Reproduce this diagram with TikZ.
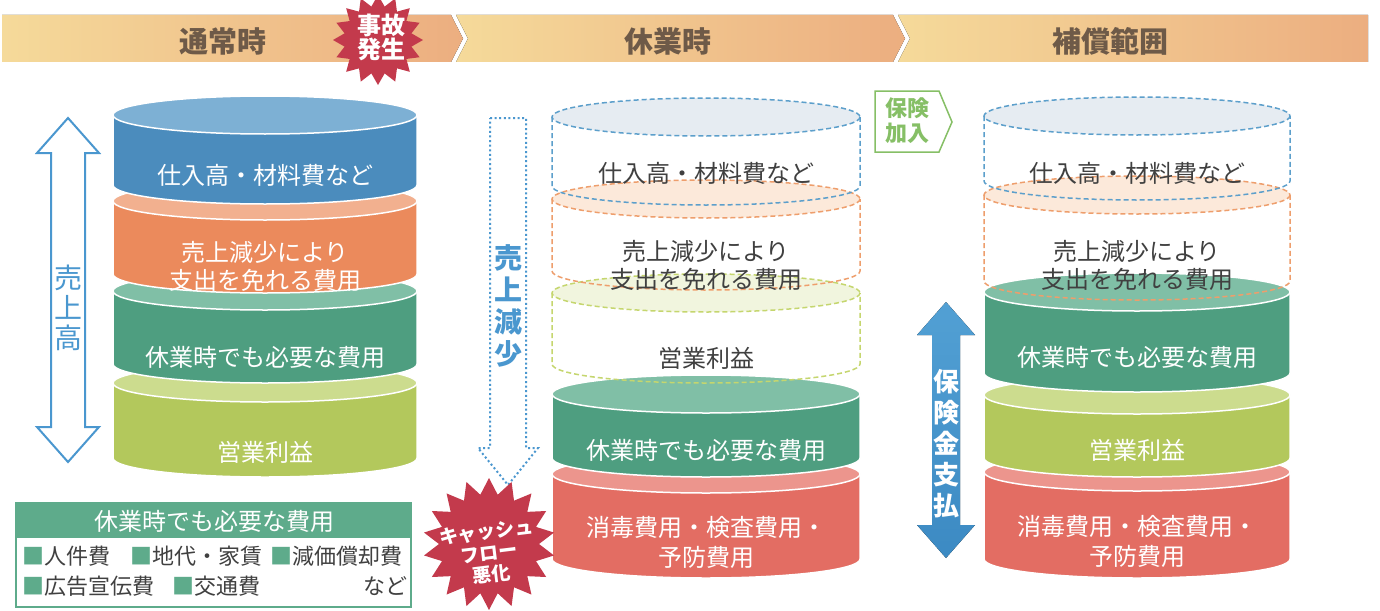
\documentclass[tikz,border=0pt]{standalone}
\usepackage{fontspec}
\setmainfont{Noto Sans CJK JP}
\usetikzlibrary{shapes.geometric}
\definecolor{bannerY}{HTML}{F5DA9A}
\definecolor{bannerO}{HTML}{ECAE80}
\definecolor{bannerText}{HTML}{6E5A48}
\definecolor{burstRed}{HTML}{C33A4C}
\definecolor{cBlue}{HTML}{4B8CBD}
\definecolor{cBlueTop}{HTML}{7DB0D4}
\definecolor{cOrange}{HTML}{EB8A5C}
\definecolor{cOrangeTop}{HTML}{F2B08F}
\definecolor{cGreen}{HTML}{4E9E80}
\definecolor{cGreenTop}{HTML}{80BFA6}
\definecolor{cYG}{HTML}{B3C85C}
\definecolor{cYGTop}{HTML}{CCDC8E}
\definecolor{cRed}{HTML}{E36D63}
\definecolor{cRedTop}{HTML}{EC958D}
\definecolor{dBlue}{HTML}{5C9FCB}
\definecolor{dBlueFill}{HTML}{E6ECF2}
\definecolor{dOrange}{HTML}{EE9E6C}
\definecolor{dOrangeFill}{HTML}{FCE9DA}
\definecolor{dYG}{HTML}{C5D66E}
\definecolor{dYGFill}{HTML}{F1F5DE}
\definecolor{arrowBlue}{HTML}{4A97CF}
\definecolor{thickBlue}{HTML}{3C8AC3}
\definecolor{thickBlueLight}{HTML}{52A0D4}
\definecolor{insGreen}{HTML}{86BF66}
\definecolor{legGreen}{HTML}{5EAB8B}
\definecolor{textGray}{HTML}{404040}
\newcommand\solidcyl[6]{%
  \filldraw[fill=#5, draw=white, line width=1.5pt] (#1-#2,#3) -- (#1-#2,#4) arc[start angle=180,end angle=0,x radius=#2,y radius=19] -- (#1+#2,#3) -- cycle;
  \filldraw[fill=#6, draw=white, line width=1.5pt] (#1,#3) ellipse[x radius=#2, y radius=19];
}
\newcommand\dashcyl[6]{%
  \filldraw[fill=#6, draw=#5, dashedline] (#1,#3) ellipse[x radius=#2, y radius=19];
  \draw[#5, dashedline] (#1-#2,#3) -- (#1-#2,#4) arc[start angle=180,end angle=0,x radius=#2,y radius=19] -- (#1+#2,#3);
}
\tikzset{
  dashedline/.style={line width=1.5pt, dash pattern=on 5pt off 3pt},
  bannertext/.style={text=bannerText, font=\fontsize{29}{32}\selectfont\bfseries},
  cyltext/.style={text=white, font=\fontsize{24}{28}\selectfont, align=center},
  cyltextb/.style={text=white, font=\fontsize{24}{30}\selectfont, align=center},
  dashtext/.style={text=textGray, font=\fontsize{24}{28}\selectfont, align=center},
  burststar/.style={star, star point ratio=1.32, inner sep=0pt, fill=burstRed, draw=none},
  bursttext/.style={text=white, font=\bfseries, align=center, inner sep=0pt},
  legtext/.style={text=textGray, font=\fontsize{22}{24}\selectfont, anchor=west, inner sep=0pt},
  vtext/.style={align=center, inner sep=0pt},
}
\begin{document}
\begin{tikzpicture}[x=1pt,y=-1pt]
\useasboundingbox (0,0) rectangle (1380,610);
\fill[white] (0,0) rectangle (1380,610);
% ---- banner
\fill[left color=bannerY, right color=bannerO] (2,15) -- (451,15) -- (463,38.5) -- (451,62) -- (2,62) -- cycle;
\fill[left color=bannerY, right color=bannerO] (456,15) -- (893,15) -- (905,38.5) -- (893,62) -- (456,62) -- (468,38.5) -- cycle;
\fill[left color=bannerY, right color=bannerO] (898,15) -- (1368,15) -- (1368,62) -- (898,62) -- (910,38.5) -- cycle;
\node[bannertext] (t1) at (223,41) {通常時};
\node[bannertext] (t2) at (668,41) {休業時};
\node[bannertext] (t3) at (1110,41) {補償範囲};
% ---- burst 1
\node[burststar, star points=16, minimum size=90pt] (b1) at (378,40) {};
\node[bursttext, font=\fontsize{24}{24}\selectfont\bfseries] (b1t) at (381,37) {事故\\発生};
% ---- left column
\solidcyl{265}{152}{383}{458}{cYG}{cYGTop}
\solidcyl{265}{152}{291}{364}{cGreen}{cGreenTop}
\solidcyl{265}{152}{201}{274}{cOrange}{cOrangeTop}
\solidcyl{265}{152}{115}{185}{cBlue}{cBlueTop}
\node[cyltext] (l1) at (265,175) {仕入高・材料費など};
\node[cyltext] (l2) at (265,266) {売上減少により\\支出を免れる費用};
\node[cyltext] (l3) at (265,357) {休業時でも必要な費用};
\node[cyltext] (l4) at (265,452) {営業利益};
% left outline double arrow
\filldraw[fill=white, draw=arrowBlue, line width=2pt, line join=miter] (68,118) -- (99,153) -- (85,153) -- (85,427) -- (99,427) -- (68,462) -- (37,427) -- (51,427) -- (51,153) -- (37,153) -- cycle;
\node[vtext, text=arrowBlue, font=\fontsize{28}{30}\selectfont] (la) at (68,308) {売\\上\\高};
% legend
\filldraw[fill=white, draw=legGreen, line width=1.2pt] (16,503) rectangle (411,607);
\fill[legGreen] (16,503) rectangle (411,538);
\node[text=white, font=\fontsize{24}{26}\selectfont] (lgh) at (214,521) {休業時でも必要な費用};
\node[legtext] (lg1) at (22,556) {\textcolor{legGreen}{■}人件費};
\node[legtext] (lg2) at (130,556) {\textcolor{legGreen}{■}地代・家賃};
\node[legtext] (lg3) at (270,556) {\textcolor{legGreen}{■}減価償却費};
\node[legtext] (lg4) at (22,586) {\textcolor{legGreen}{■}広告宣伝費};
\node[legtext] (lg5) at (172,586) {\textcolor{legGreen}{■}交通費};
\node[legtext, anchor=east] (lg6) at (408,586) {など};
% ---- middle column
\solidcyl{706}{154}{474}{559}{cRed}{cRedTop}
\solidcyl{706}{154}{394}{458}{cGreen}{cGreenTop}
\dashcyl{706}{154}{293}{364}{dYG}{dYGFill}
\dashcyl{706}{154}{199}{271}{dOrange}{dOrangeFill}
\dashcyl{706}{154}{117}{186}{dBlue}{dBlueFill}
\node[dashtext] (m1) at (706,173) {仕入高・材料費など};
\node[dashtext] (m2) at (706,265) {売上減少により\\支出を免れる費用};
\node[dashtext] (m3) at (706,358) {営業利益};
\node[cyltext] (m4) at (706,450) {休業時でも必要な費用};
\node[cyltextb] (m5) at (706,542) {消毒費用・検査費用・\\予防費用};
% dotted arrow
\draw[arrowBlue, line width=2pt, dash pattern=on 2pt off 2.6pt, line join=miter] (490,118) -- (526,118) -- (526,448) -- (538,448) -- (508,485) -- (478,448) -- (490,448) -- cycle;
\node[vtext, text=arrowBlue, font=\fontsize{28}{32}\selectfont\bfseries] (ma) at (508,306) {売\\上\\減\\少};
% burst 2
\node[burststar, star points=18, minimum size=132pt] (b2) at (489,544) {};
\node[bursttext, rotate=7, font=\fontsize{19}{21.5}\selectfont\bfseries] (b2t) at (489,553) {キャッシュ\\フロー\\悪化};
% ---- right column
\solidcyl{1137}{153}{472}{559}{cRed}{cRedTop}
\solidcyl{1137}{153}{395}{458}{cYG}{cYGTop}
\solidcyl{1137}{153}{292}{373}{cGreen}{cGreenTop}
\dashcyl{1137}{153}{195}{281}{dOrange}{dOrangeFill}
\dashcyl{1137}{153}{116}{181}{dBlue}{dBlueFill}
\node[dashtext] (r1) at (1137,173) {仕入高・材料費など};
\node[dashtext] (r2) at (1137,265) {売上減少により\\支出を免れる費用};
\node[cyltext] (r3) at (1137,357) {休業時でも必要な費用};
\node[cyltext] (r4) at (1137,450) {営業利益};
\node[cyltextb] (r5) at (1137,541) {消毒費用・検査費用・\\予防費用};
% insurance join tag
\filldraw[fill=white, draw=insGreen, line width=1.5pt] (875,91) -- (939,91) -- (952,122) -- (939,152) -- (875,152) -- cycle;
\node[vtext, text=insGreen, font=\fontsize{22}{25}\selectfont\bfseries] (ins) at (907,121) {保険\\加入};
% thick blue double arrow
\fill[top color=thickBlueLight, bottom color=thickBlue] (946,302) -- (975,335) -- (960,335) -- (960,525) -- (975,525) -- (946,558) -- (917,525) -- (932,525) -- (932,335) -- (917,335) -- cycle;
\node[vtext, text=white, font=\fontsize{26}{31}\selectfont\bfseries] (pay) at (946,444) {保\\険\\金\\支\\払};
\end{tikzpicture}
\end{document}
